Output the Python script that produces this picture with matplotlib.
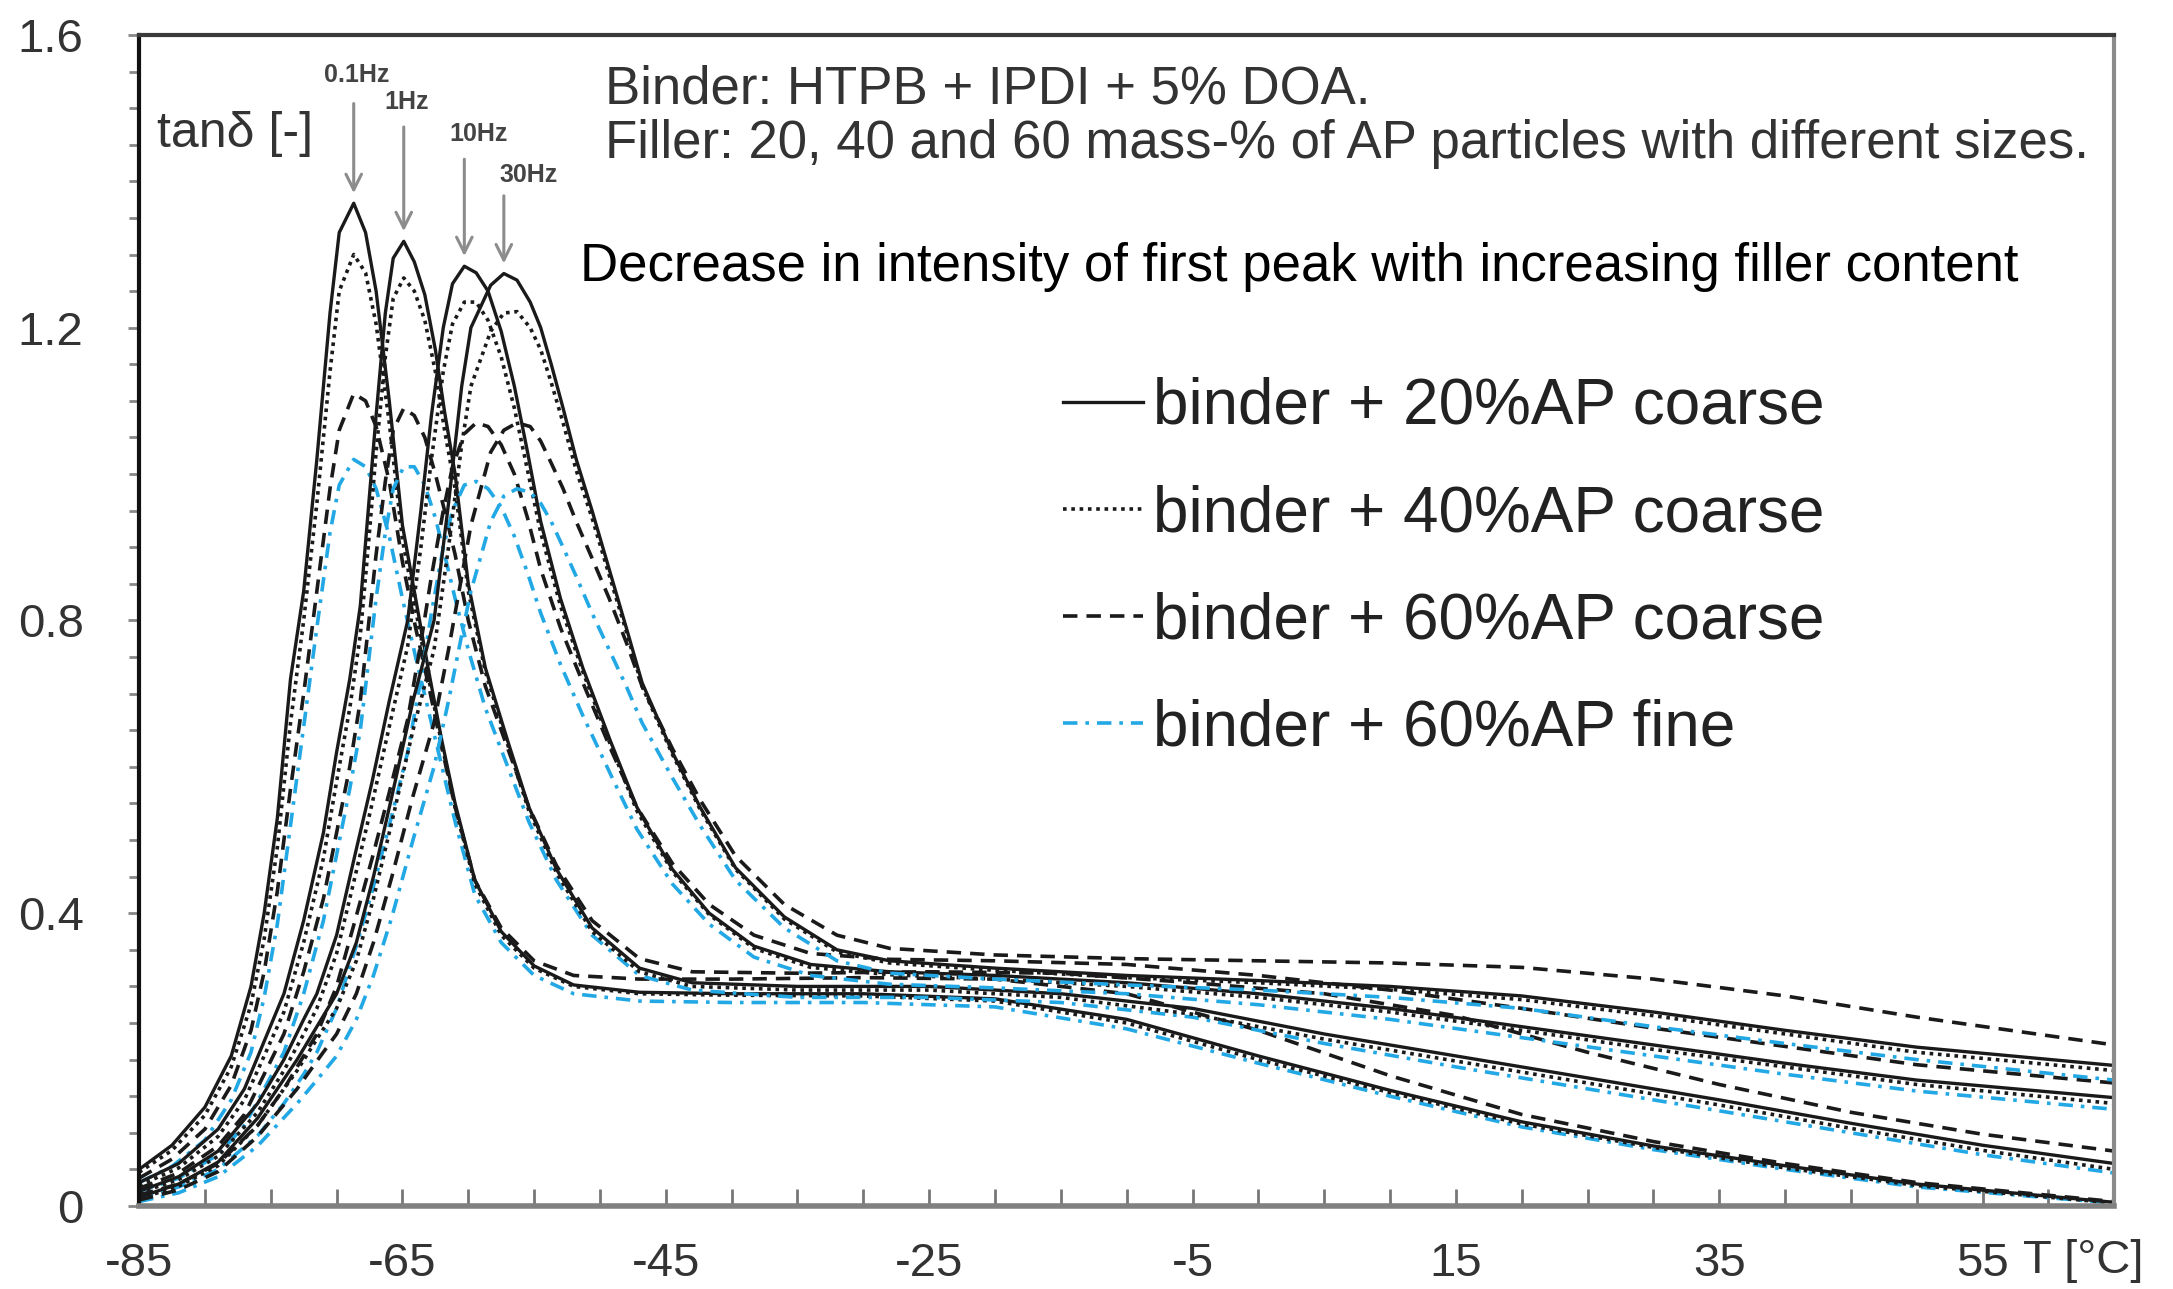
import matplotlib
matplotlib.use("Agg")
import matplotlib.pyplot as plt

plt.rcParams['font.family'] = ['Liberation Sans', 'DejaVu Sans']
plt.rcParams['axes.unicode_minus'] = False

# temperature grids (one per frequency) and tan delta readings
T_01 = [-85, -82.5, -80, -78, -76.5, -75.5, -74.5, -73.5, -72.5, -71.5, -70.5, -69.8, -68.7, -67.8, -67, -66,
        -65, -64, -63, -62, -61, -59.5, -57.5, -55, -52, -47, -40, -30, -20, -10, 0, 10, 20, 30, 40, 50, 65]
ap20_01 = [0.05, 0.083, 0.135, 0.205, 0.30, 0.40, 0.53, 0.72, 0.84, 1.02, 1.22, 1.33, 1.37, 1.33, 1.25, 1.10,
           0.93, 0.83, 0.73, 0.635, 0.55, 0.445, 0.375, 0.328, 0.302, 0.292, 0.29, 0.29, 0.283, 0.255, 0.205,
           0.158, 0.115, 0.082, 0.055, 0.03, 0.005]
ap40_01 = [0.046, 0.076, 0.124, 0.19, 0.275, 0.365, 0.49, 0.66, 0.80, 0.96, 1.14, 1.25, 1.30, 1.275, 1.205, 1.07,
           0.91, 0.815, 0.72, 0.63, 0.545, 0.44, 0.37, 0.325, 0.30, 0.29, 0.288, 0.287, 0.28, 0.25, 0.20,
           0.155, 0.112, 0.08, 0.052, 0.028, 0.004]
ap60_01 = [0.038, 0.064, 0.105, 0.165, 0.24, 0.32, 0.43, 0.57, 0.70, 0.84, 0.98, 1.06, 1.11, 1.10, 1.065, 0.99,
           0.88, 0.79, 0.71, 0.625, 0.545, 0.445, 0.38, 0.335, 0.315, 0.31, 0.31, 0.312, 0.31, 0.29, 0.24,
           0.178, 0.125, 0.088, 0.058, 0.032, 0.006]
fine_01 = [0.032, 0.054, 0.09, 0.145, 0.21, 0.285, 0.385, 0.52, 0.655, 0.79, 0.92, 0.985, 1.02, 1.01, 0.98, 0.915,
           0.83, 0.75, 0.675, 0.60, 0.525, 0.425, 0.36, 0.315, 0.29, 0.28, 0.278, 0.278, 0.272, 0.242, 0.195,
           0.15, 0.108, 0.077, 0.05, 0.026, 0.004]

T_1 = [-85, -82, -79, -77, -75.5, -74, -72.5, -71, -70, -69, -68.2, -67.6, -67, -66.3, -65.7, -64.9, -64.1,
       -63.3, -62.5, -61.8, -61, -60, -58.7, -57, -55.4, -53.3, -50.6, -47, -43, -35, -25, -15, -5, 5, 15,
       25, 35, 45, 55, 65]
ap20_1 = [0.032, 0.058, 0.105, 0.16, 0.225, 0.29, 0.39, 0.51, 0.62, 0.72, 0.82, 0.95, 1.08, 1.22, 1.295, 1.318,
          1.29, 1.245, 1.17, 1.085, 1.0, 0.85, 0.735, 0.635, 0.545, 0.46, 0.38, 0.325, 0.305, 0.30, 0.30, 0.29,
          0.27, 0.235, 0.205, 0.175, 0.145, 0.113, 0.083, 0.058]
ap40_1 = [0.028, 0.052, 0.095, 0.145, 0.205, 0.265, 0.36, 0.475, 0.58, 0.68, 0.78, 0.90, 1.03, 1.16, 1.24, 1.268,
          1.25, 1.21, 1.14, 1.06, 0.98, 0.84, 0.73, 0.63, 0.54, 0.455, 0.375, 0.32, 0.30, 0.295, 0.295, 0.285,
          0.262, 0.228, 0.198, 0.168, 0.138, 0.106, 0.076, 0.05]
ap60_1 = [0.024, 0.045, 0.082, 0.125, 0.18, 0.235, 0.32, 0.42, 0.51, 0.60, 0.69, 0.79, 0.89, 0.99, 1.06, 1.09,
          1.08, 1.05, 1.0, 0.95, 0.89, 0.80, 0.71, 0.625, 0.545, 0.465, 0.39, 0.338, 0.32, 0.318, 0.32, 0.318,
          0.305, 0.29, 0.26, 0.21, 0.166, 0.128, 0.098, 0.075]
fine_1 = [0.02, 0.038, 0.07, 0.11, 0.16, 0.21, 0.29, 0.39, 0.48, 0.57, 0.65, 0.74, 0.83, 0.92, 0.98, 1.01,
          1.01, 0.985, 0.94, 0.89, 0.83, 0.76, 0.68, 0.60, 0.525, 0.445, 0.37, 0.315, 0.295, 0.285, 0.285, 0.278,
          0.258, 0.222, 0.19, 0.16, 0.13, 0.10, 0.07, 0.045]

T_10 = [-85, -82, -79, -76, -74, -72.5, -71.5, -70, -68.6, -67.3, -66, -64.6, -63.6, -62.8, -61.9, -61.2, -60.3,
        -59.4, -58.5, -57.5, -56.5, -55.5, -54.5, -53, -51.3, -49.2, -47.2, -44.5, -41.7, -38.3, -34, -28, -20,
        -10, 0, 10, 20, 30, 40, 50, 65]
ap20_10 = [0.02, 0.04, 0.075, 0.14, 0.2, 0.255, 0.29, 0.37, 0.48, 0.58, 0.69, 0.80, 0.95, 1.08, 1.20, 1.26, 1.284,
           1.275, 1.25, 1.195, 1.12, 1.03, 0.935, 0.83, 0.735, 0.635, 0.545, 0.46, 0.40, 0.355, 0.33, 0.32, 0.315,
           0.305, 0.29, 0.27, 0.245, 0.22, 0.195, 0.172, 0.148]
ap40_10 = [0.018, 0.036, 0.068, 0.128, 0.185, 0.235, 0.27, 0.345, 0.45, 0.55, 0.655, 0.765, 0.9, 1.02, 1.14, 1.205,
           1.235, 1.235, 1.21, 1.16, 1.09, 1.005, 0.92, 0.82, 0.73, 0.63, 0.54, 0.457, 0.398, 0.352, 0.326, 0.316,
           0.31, 0.30, 0.285, 0.265, 0.24, 0.214, 0.19, 0.166, 0.14]
ap60_10 = [0.015, 0.03, 0.058, 0.11, 0.16, 0.205, 0.235, 0.30, 0.39, 0.475, 0.565, 0.665, 0.77, 0.86, 0.95, 1.01,
           1.055, 1.07, 1.065, 1.04, 1.0, 0.94, 0.87, 0.79, 0.715, 0.625, 0.545, 0.468, 0.412, 0.37, 0.345, 0.337,
           0.335, 0.33, 0.315, 0.295, 0.27, 0.243, 0.218, 0.193, 0.168]
fine_10 = [0.012, 0.026, 0.05, 0.096, 0.14, 0.18, 0.21, 0.27, 0.35, 0.43, 0.52, 0.62, 0.72, 0.81, 0.9, 0.95,
           0.985, 0.99, 0.98, 0.955, 0.915, 0.865, 0.81, 0.74, 0.67, 0.59, 0.515, 0.44, 0.385, 0.34, 0.315, 0.303,
           0.298, 0.29, 0.275, 0.255, 0.23, 0.205, 0.18, 0.157, 0.132]

T_30 = [-85, -82, -79, -76, -73, -71.5, -70, -68.5, -67.2, -65.8, -64.2, -62.6, -61.5, -60.5, -59.8, -58.3, -57.3,
        -56.3, -55.3, -54.5, -53.7, -52.8, -51.8, -50.6, -49.3, -48, -46.8, -44.5, -42.4, -39.7, -36, -32, -28,
        -20, -10, 0, 10, 20, 30, 40, 50, 65]
ap20_30 = [0.012, 0.03, 0.06, 0.12, 0.2, 0.245, 0.29, 0.36, 0.45, 0.56, 0.69, 0.80, 0.96, 1.12, 1.20, 1.258, 1.274,
           1.265, 1.235, 1.2, 1.15, 1.09, 1.02, 0.95, 0.87, 0.79, 0.715, 0.62, 0.545, 0.462, 0.395, 0.35, 0.335,
           0.325, 0.315, 0.308, 0.30, 0.287, 0.265, 0.24, 0.217, 0.192]
ap40_30 = [0.01, 0.027, 0.055, 0.11, 0.185, 0.228, 0.27, 0.335, 0.42, 0.525, 0.65, 0.76, 0.9, 1.04, 1.12, 1.195,
           1.22, 1.222, 1.2, 1.17, 1.125, 1.07, 1.005, 0.94, 0.862, 0.785, 0.71, 0.617, 0.542, 0.46, 0.392, 0.347,
           0.332, 0.322, 0.312, 0.305, 0.296, 0.282, 0.26, 0.235, 0.21, 0.185]
ap60_30 = [0.008, 0.022, 0.047, 0.095, 0.16, 0.198, 0.235, 0.29, 0.36, 0.45, 0.56, 0.66, 0.76, 0.86, 0.93, 1.03,
           1.06, 1.07, 1.065, 1.045, 1.015, 0.98, 0.935, 0.885, 0.83, 0.77, 0.71, 0.625, 0.555, 0.478, 0.412, 0.37,
           0.352, 0.343, 0.338, 0.335, 0.332, 0.326, 0.31, 0.287, 0.258, 0.22]
fine_30 = [0.006, 0.018, 0.04, 0.082, 0.14, 0.172, 0.205, 0.255, 0.315, 0.395, 0.50, 0.60, 0.69, 0.78, 0.84, 0.935,
           0.97, 0.98, 0.975, 0.96, 0.935, 0.9, 0.86, 0.81, 0.76, 0.71, 0.66, 0.585, 0.52, 0.445, 0.38, 0.335,
           0.318, 0.31, 0.302, 0.295, 0.285, 0.27, 0.245, 0.222, 0.2, 0.172]

freq_labels = ["0.1Hz", "1Hz", "10Hz", "30Hz"]
series_labels = ["binder + 20%AP coarse", "binder + 40%AP coarse", "binder + 60%AP coarse", "binder + 60%AP fine"]
x_ticks = [-85, -65, -45, -25, -5, 15, 35, 55]
y_ticks = [0, 0.4, 0.8, 1.2, 1.6]
y_ticklabels = ["0", "0.4", "0.8", "1.2", "1.6"]

groups = [
    (T_01, ap20_01, ap40_01, ap60_01, fine_01),
    (T_1, ap20_1, ap40_1, ap60_1, fine_1),
    (T_10, ap20_10, ap40_10, ap60_10, fine_10),
    (T_30, ap20_30, ap40_30, ap60_30, fine_30),
]

blue = '#22a8e4'
styles = [
    dict(color='#1a1a1a', ls='-', lw=2.4),
    dict(color='#1a1a1a', ls=(0, (1, 1.3)), lw=2.6),
    dict(color='#1a1a1a', ls=(0, (4, 2.5)), lw=2.6),
    dict(color=blue, ls=(0, (4, 2.2, 1, 2.2)), lw=2.6),
]

fig = plt.figure(figsize=(21.73, 12.89), dpi=100)
ax = fig.add_axes([0.064, 0.0644, 0.909, 0.9085])

# draw fine (blue) first so black lines sit on top
for T, *curves in groups:
    for k in [3, 2, 1, 0]:
        lab = series_labels[k] if T is T_01 else None
        ax.plot(T, curves[k], label=lab, **styles[k])

ax.set_xlim(-85, 65)
ax.set_ylim(0, 1.6)
ax.set_xticks(x_ticks)
ax.set_xticks(list(range(-85, 66, 5)), minor=True)
ax.set_yticks(y_ticks)
ax.set_yticklabels(y_ticklabels)
ax.set_yticks([i * 0.05 for i in range(33)], minor=True)

ax.tick_params(axis='x', which='both', direction='in', color='#777777', width=2,
               labelsize=34, labelcolor='#333333', pad=26, length=12)
ax.tick_params(axis='y', which='both', direction='out', color='#888888', width=2,
               labelsize=34, labelcolor='#333333', pad=32)
ax.tick_params(axis='y', which='major', length=8)
ax.tick_params(axis='y', which='minor', length=7)

ax.spines['left'].set_color('#111111')
ax.spines['left'].set_linewidth(3)
ax.spines['bottom'].set_color('#808080')
ax.spines['bottom'].set_linewidth(4)
ax.spines['top'].set_color('#3a3a3a')
ax.spines['top'].set_linewidth(3)
ax.spines['right'].set_color('#8a8a8a')
ax.spines['right'].set_linewidth(3)

# frequency arrows pointing at the 20% coarse peaks
label_offsets = [(0.2, 0.175), (0.2, 0.19), (1.1, 0.18), (1.9, 0.135)]
arrow_len = [0.13, 0.15, 0.14, 0.10]
for (T, s20, *_), name, (dx, dy), alen in zip(groups, freq_labels, label_offsets, arrow_len):
    i = s20.index(max(s20))
    tx, ty = T[i], s20[i]
    ax.annotate('', xy=(tx, ty + 0.01), xytext=(tx, ty + 0.01 + alen),
                arrowprops=dict(arrowstyle='->', color='#8c8c8c', lw=2.2, mutation_scale=28))
    ax.text(tx + dx, ty + dy, name, fontsize=18, fontweight='bold', color='#444444',
            ha='center', va='center')

ax.text(0.009, 0.915, "tanδ [-]", transform=ax.transAxes, fontsize=36, color='#333333',
        ha='left', va='center')
ax.text(0.236, 0.953, "Binder: HTPB + IPDI + 5% DOA.", transform=ax.transAxes, fontsize=38,
        color='#333333', ha='left', va='center')
ax.text(0.236, 0.907, "Filler: 20, 40 and 60 mass-% of AP particles with different sizes.",
        transform=ax.transAxes, fontsize=38, color='#333333', ha='left', va='center')
ax.text(0.223, 0.802, "Decrease in intensity of first peak with increasing filler content",
        transform=ax.transAxes, fontsize=38, color='black', ha='left', va='center')
ax.text(0.954, -0.047, "T [°C]", transform=ax.transAxes, fontsize=34, color='#333333',
        ha='left', va='center')

handles, labels = ax.get_legend_handles_labels()
order = [labels.index(s) for s in series_labels]
leg = ax.legend([handles[i] for i in order], [labels[i] for i in order],
                loc='upper left', bbox_to_anchor=(0.468, 0.708), frameon=False,
                fontsize=46, handlelength=1.25, handletextpad=0.15, labelspacing=0.74,
                borderpad=0, borderaxespad=0)
for t in leg.get_texts():
    t.set_color('#222222')

fig.savefig("out.png", dpi=100, facecolor='white')
